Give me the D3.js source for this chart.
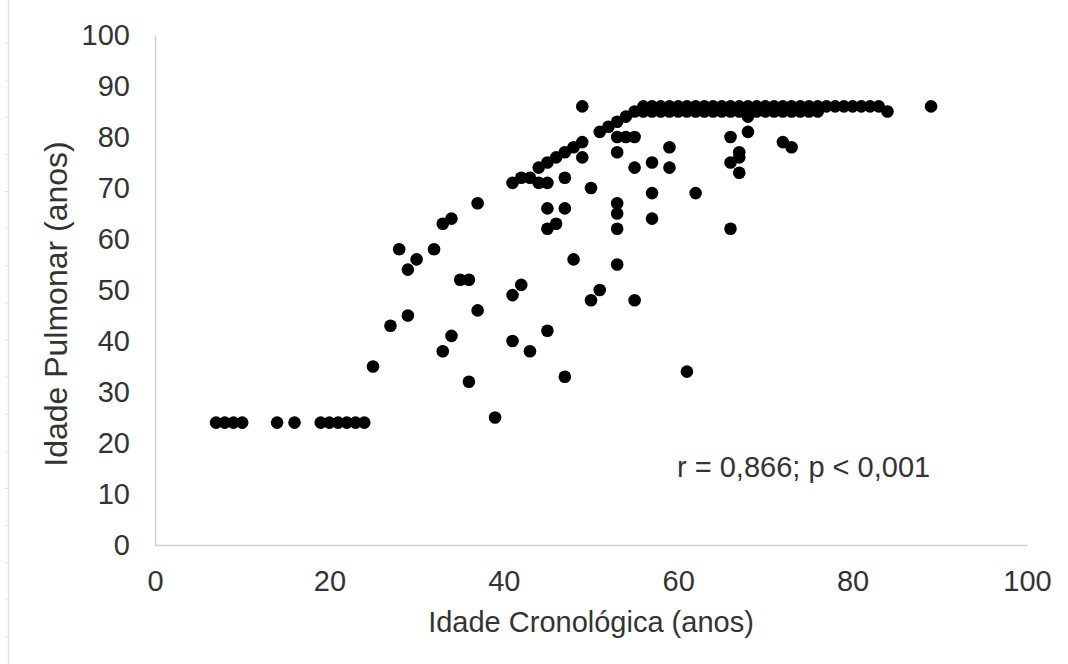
<!DOCTYPE html>
<html>
<head>
<meta charset="utf-8">
<script src="https://cdn.jsdelivr.net/npm/d3@7"></script>
<style>
  body { margin: 0; background: #fff; }
  text { font-family: "Liberation Sans", Arial, sans-serif; fill: #333; }
</style>
</head>
<body>
<div id="chart"></div>
<script>
// idade cronologica / idade pulmonar
var cronologica = [
  7, 8, 9, 10, 14, 16, 19, 20, 21, 22, 23, 24,
  25, 27, 28, 29, 29, 30, 32, 33, 34, 33, 34, 35, 36, 36, 37, 37, 39,
  41, 42, 43, 44, 45, 46, 47, 48, 49, 49, 49,
  44, 45, 47, 41, 42, 41, 43, 45, 47, 48, 45, 47, 45, 46, 50, 50, 51,
  51, 52, 53, 54, 55, 53, 54, 55, 53, 55, 53, 53, 53, 53, 55,
  57, 57, 57, 59, 59, 61, 62, 66, 66, 66, 67, 67, 67, 68, 68, 72, 73,
  56, 57, 58, 59, 60, 61, 62, 63, 64, 65, 66, 67, 68, 69, 70, 71, 72, 73, 74, 75,
  76, 77, 78, 79, 80, 81, 82, 83,
  56, 57, 58, 59, 60, 61, 62, 63, 64, 65, 66, 67, 68, 69, 70, 71, 72, 73, 74, 75, 76,
  84, 89
];
var pulmonar = [
  24, 24, 24, 24, 24, 24, 24, 24, 24, 24, 24, 24,
  35, 43, 58, 54, 45, 56, 58, 63, 64, 38, 41, 52, 52, 32, 67, 46, 25,
  71, 72, 72, 74, 75, 76, 77, 78, 79, 86, 76,
  71, 71, 72, 49, 51, 40, 38, 42, 33, 56, 66, 66, 62, 63, 70, 48, 50,
  81, 82, 83, 84, 85, 80, 80, 80, 77, 74, 67, 65, 62, 55, 48,
  75, 69, 64, 78, 74, 34, 69, 62, 80, 75, 77, 76, 73, 81, 84, 79, 78,
  86, 86, 86, 86, 86, 86, 86, 86, 86, 86, 86, 86, 86, 86, 86, 86, 86, 86, 86, 86,
  86, 86, 86, 86, 86, 86, 86, 86,
  85, 85, 85, 85, 85, 85, 85, 85, 85, 85, 85, 85, 85, 85, 85, 85, 85, 85, 85, 85, 85,
  85, 86
];
var xTicks = [0, 20, 40, 60, 80, 100];
var yTicks = [0, 10, 20, 30, 40, 50, 60, 70, 80, 90, 100];
var anotacao = "r = 0,866; p < 0,001";

var width = 1068, height = 664;
var margin = {top: 35, right: 41, bottom: 119, left: 155};
var fs = 29;

var svg = d3.select("#chart").append("svg")
    .attr("width", width)
    .attr("height", height);

// faint page border on the left
svg.append("line")
    .attr("x1", 8.5).attr("x2", 8.5).attr("y1", 0).attr("y2", height)
    .attr("stroke", "#e3e3e3").attr("stroke-width", 1.5);
svg.append("g").selectAll("line")
  .data(d3.range(17))
  .enter().append("line")
    .attr("x1", 5).attr("x2", 8.5)
    .attr("y1", function(i) { return 43 + i * 37.125; })
    .attr("y2", function(i) { return 43 + i * 37.125; })
    .attr("stroke", "#e3e3e3");

var x = d3.scaleLinear()
    .domain([0, 100])
    .range([margin.left, width - margin.right]);

var y = d3.scaleLinear()
    .domain([0, 100])
    .range([height - margin.bottom, margin.top]);

// axes
var xAxis = svg.append("g")
    .attr("transform", "translate(0," + y(0) + ")")
    .call(d3.axisBottom(x).tickValues(xTicks).tickSize(0).tickPadding(25));
var yAxis = svg.append("g")
    .attr("transform", "translate(" + x(0) + ",0)")
    .call(d3.axisLeft(y).tickValues(yTicks).tickSize(0).tickPadding(25));

[xAxis, yAxis].forEach(function(a) {
  a.select(".domain").attr("stroke", "#d0d0d0").attr("stroke-width", 1.5);
  a.selectAll("text")
    .attr("font-size", fs)
    .attr("fill", "#333")
    .style("font-family", "Liberation Sans, Arial, sans-serif");
});
xAxis.selectAll("text").attr("dy", "0.71em");

// points
svg.append("g")
  .selectAll("circle")
  .data(d3.range(cronologica.length))
  .enter().append("circle")
    .attr("cx", function(i) { return x(cronologica[i]); })
    .attr("cy", function(i) { return y(pulmonar[i]); })
    .attr("r", 6.3)
    .attr("fill", "#000");

// titles
svg.append("text")
    .attr("x", (x(0) + x(100)) / 2)
    .attr("y", 632)
    .attr("text-anchor", "middle")
    .attr("font-size", fs)
    .text("Idade Cronológica (anos)");

svg.append("text")
    .attr("transform", "translate(67,304)rotate(-90)")
    .attr("text-anchor", "middle")
    .attr("font-size", 32)
    .text("Idade Pulmonar (anos)");

svg.append("text")
    .attr("x", 677)
    .attr("y", 477)
    .attr("font-size", fs)
    .text(anotacao);
</script>
</body>
</html>
